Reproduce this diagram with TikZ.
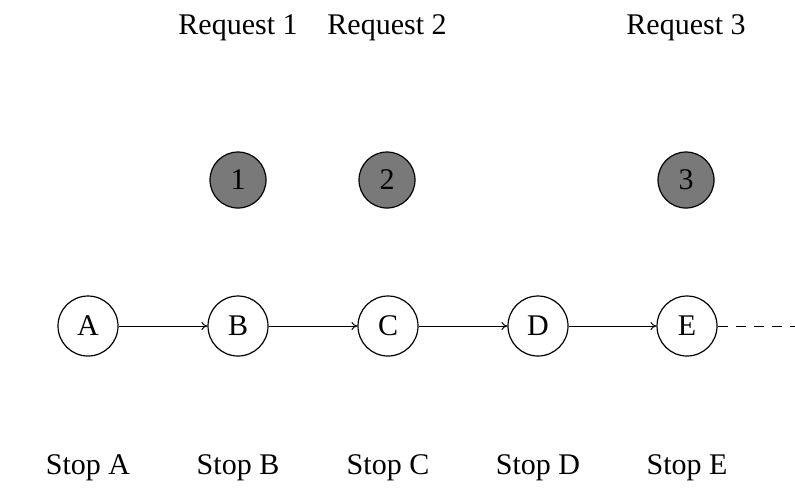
\documentclass[tikz,border=0pt]{standalone}
\usepackage{fontspec}
\setmainfont{Liberation Serif}
\usetikzlibrary{arrows.meta}
\begin{document}
\begin{tikzpicture}[x=0.5pt,y=-0.5pt,
  stop/.style={circle,draw,line width=0.6pt,fill=white,minimum size=30pt,inner sep=0pt,font=\fontsize{15}{18}\selectfont},
  req/.style={circle,draw,line width=0.6pt,fill=gray!95!black,minimum size=28pt,inner sep=0pt,font=\fontsize{15}{18}\selectfont},
  lbl/.style={font=\fontsize{15}{18}\selectfont,inner sep=0pt},
  conn/.style={line width=0.5pt,-{To[length=3pt,width=4pt]}}]
\useasboundingbox (0,0) rectangle (795,495);
\fill[white] (0,0) rectangle (795,495);
\foreach \n/\x in {A/88,B/238,C/388,D/538,E/687}{
  \node[stop] (\n) at (\x,326) {\n};
  \node[lbl] (s\n) at (\x,468) {Stop \n};
}
\node[req] (r1) at (238,180) {1};
\node[req] (r2) at (387,180) {2};
\node[req] (r3) at (686,180) {3};
\node[lbl] (q1) at (238,28) {Request 1};
\node[lbl] (q2) at (387,28) {Request 2};
\node[lbl] (q3) at (686,28) {Request 3};
\coordinate (end) at (795,326);
\draw[conn] (A) -- (B);
\draw[conn] (B) -- (C);
\draw[conn] (C) -- (D);
\draw[conn] (D) -- (E);
\draw[line width=0.5pt,dash pattern=on 5pt off 4pt] (E) -- (end);
\end{tikzpicture}
\end{document}
